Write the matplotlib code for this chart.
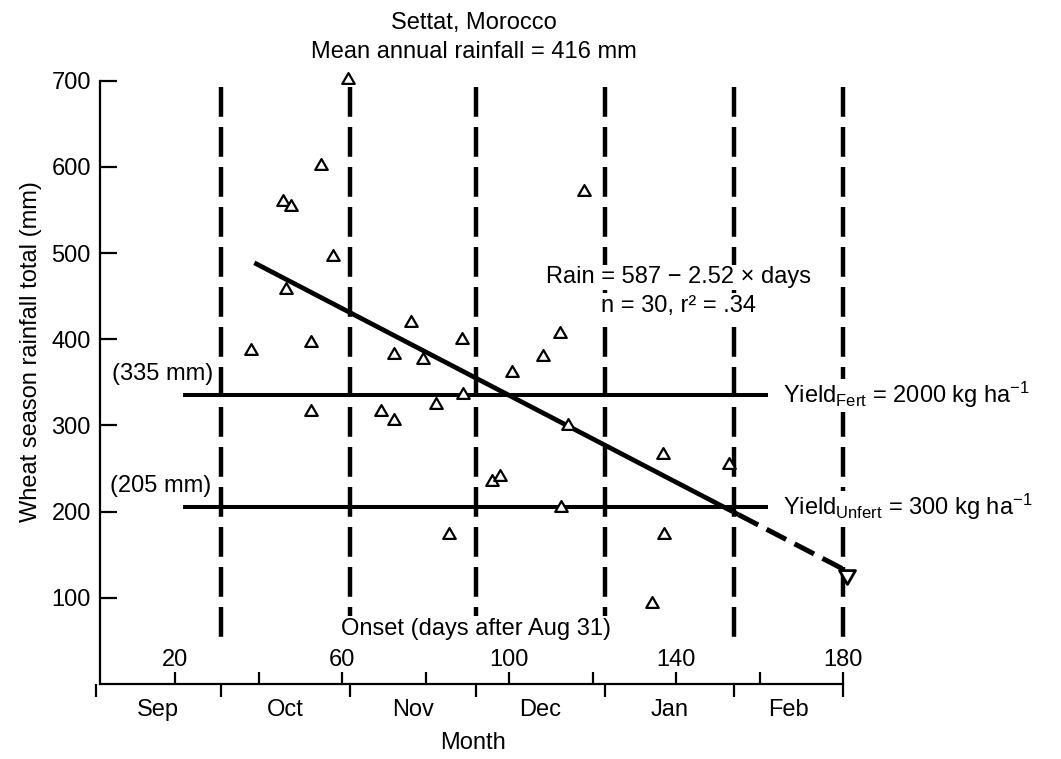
import numpy as np
import matplotlib
matplotlib.use('Agg')
import matplotlib.pyplot as plt
from matplotlib.path import Path

plt.rcParams['font.family'] = ['Liberation Sans', 'DejaVu Sans']
plt.rcParams['mathtext.fontset'] = 'custom'
plt.rcParams['mathtext.rm'] = 'Liberation Sans'
plt.rcParams['mathtext.it'] = 'Liberation Sans:italic'
plt.rcParams['mathtext.bf'] = 'Liberation Sans:bold'

# ---- data ----
# onset of the season (days after Aug 31) vs wheat season rainfall (mm), n = 30
onset_days = [61.5, 55.0, 45.8, 47.8, 57.9, 46.5, 76.5, 52.5, 38.2, 72.5,
              79.3, 118.0, 88.7, 112.2, 108.2, 100.6, 52.5, 69.3, 72.4, 82.6,
              89.0, 95.9, 97.8, 85.7, 114.2, 137.0, 152.8, 112.5, 137.2, 134.2]
rain_mm = [703, 603, 562, 556, 498, 459, 421, 398, 389, 384,
           378, 573, 401, 409, 382, 363, 318, 318, 307, 326,
           338, 237, 242, 175, 302, 268, 257, 207, 175, 95]

# regression  Rain = 587 - 2.52 x days
reg_a, reg_b = 587, -2.52
reg_solid = [39, 155]      # fitted range
reg_dash = [155, 180]      # extrapolation
pred_day, pred_mm = 181, 124

# rainfall needed for yield levels
fert_mm, unfert_mm = 335, 205
thr_span = [22, 162]

month_bounds = [1, 31, 62, 92, 123, 154, 180]
month_names = ['Sep', 'Oct', 'Nov', 'Dec', 'Jan', 'Feb']
day_ticks = [20, 40, 60, 80, 100, 120, 140, 160, 180]
day_labels = ['20', '', '60', '', '100', '', '140', '', '180']
rain_ticks = [100, 200, 300, 400, 500, 600, 700]

FS = 17
WB = dict(fc='white', ec='none', pad=1)   # text knocks out the dashed lines
# open triangles, a bit flatter than the built-in ones
up_tri = Path([(-1, -0.866), (1, -0.866), (0, 0.866), (-1, -0.866)], closed=True)
down_tri = Path([(-1, 0.866), (1, 0.866), (0, -0.866), (-1, 0.866)], closed=True)

fig = plt.figure(figsize=(10.61, 7.59), dpi=100)
ax = fig.add_axes([91.5/1061, 75/759, 960.25/1061, 655.0/759])
ax.set_xlim(0, 230); ax.set_ylim(0, 760)

# month boundaries (dashed verticals)
for d in month_bounds[1:]:
    ax.plot([d, d], [693, 45], color='k', lw=3.2, dashes=(6.7, 2.3), zorder=1)

# yield threshold lines
ax.plot(thr_span, [fert_mm, fert_mm], color='k', lw=2.9, solid_capstyle='butt', zorder=2)
ax.plot(thr_span, [unfert_mm, unfert_mm], color='k', lw=2.9, solid_capstyle='butt', zorder=2)

# regression line + extrapolation
xs = np.array(reg_solid); xd = np.array(reg_dash)
ax.plot(xs, reg_a + reg_b*xs, color='k', lw=3.4, solid_capstyle='butt', zorder=2)
ax.plot(xd, reg_a + reg_b*xd, color='k', lw=3.6, dashes=(4.4, 1.9), zorder=2)

ax.plot(onset_days, rain_mm, ls='none', marker=up_tri, ms=9, mew=1.6,
        mec='k', mfc='white', zorder=3)
ax.plot([pred_day], [pred_mm], ls='none', marker=down_tri, ms=11.5, mew=2,
        mec='k', mfc='white', zorder=3)

# axes styling
for s in ['top', 'right']:
    ax.spines[s].set_visible(False)
ax.spines['left'].set_position(('data', 2))
ax.spines['left'].set_bounds(0, 700)
ax.spines['bottom'].set_bounds(2, 180)
ax.spines['left'].set_linewidth(1.6); ax.spines['bottom'].set_linewidth(1.6)

ax.set_yticks(rain_ticks)
ax.tick_params(axis='y', direction='in', length=12, width=1.6, pad=6.5, labelsize=FS)
ax.xaxis.remove_overlapping_locs = False
ax.set_xticks(day_ticks, day_labels)
ax.set_xticks(month_bounds, minor=True)
ax.tick_params(axis='x', which='major', direction='in', length=8.6, width=1.6,
               pad=-25, labelsize=FS)
ax.tick_params(axis='x', which='minor', direction='out', length=9.5, width=1.6)

mids = [(a + b) / 2 for a, b in zip(month_bounds[:-1], month_bounds[1:])]
sec = ax.secondary_xaxis('bottom')
sec.set_xticks(mids, month_names)
sec.tick_params(length=0, pad=10.8, labelsize=FS)
sec.spines['bottom'].set_visible(False)

ax.set_xlabel('Month', fontsize=FS)
ax.xaxis.set_label_coords(0.397, -0.073)
ax.set_ylabel('Wheat season rainfall total (mm)', fontsize=FS)
ax.yaxis.set_label_coords(-0.052, 0.507)

# annotations
ax.text(91.6, 760, 'Settat, Morocco', ha='center', va='baseline', fontsize=FS, clip_on=False)
ax.text(91.6, 726, 'Mean annual rainfall = 416 mm', ha='center', va='baseline', fontsize=FS)
ax.text(17, fert_mm + 18, '(335 mm)', ha='center', va='baseline', fontsize=FS)
ax.text(16.5, unfert_mm + 18, '(205 mm)', ha='center', va='baseline', fontsize=FS)
ax.text(165.6, fert_mm - 9, r'Yield$_{\mathrm{Fert}}$ = 2000 kg ha$^{-1}$',
        ha='left', va='baseline', fontsize=FS, bbox=WB, zorder=4)
ax.text(165.6, unfert_mm - 9, r'Yield$_{\mathrm{Unfert}}$ = 300 kg ha$^{-1}$',
        ha='left', va='baseline', fontsize=FS, bbox=WB, zorder=4)
ax.text(140.7, 465, 'Rain = 587 \u2212 2.52 \u00d7 days', ha='center', va='baseline',
        fontsize=FS, bbox=WB, zorder=4)
ax.text(140.7, 432, 'n = 30, r\u00b2 = .34', ha='center', va='baseline',
        fontsize=FS, bbox=WB, zorder=4)
ax.text(92, 57, 'Onset (days after Aug 31)', ha='center', va='baseline',
        fontsize=FS, bbox=WB, zorder=4)

fig.savefig('out.png', dpi=100)
